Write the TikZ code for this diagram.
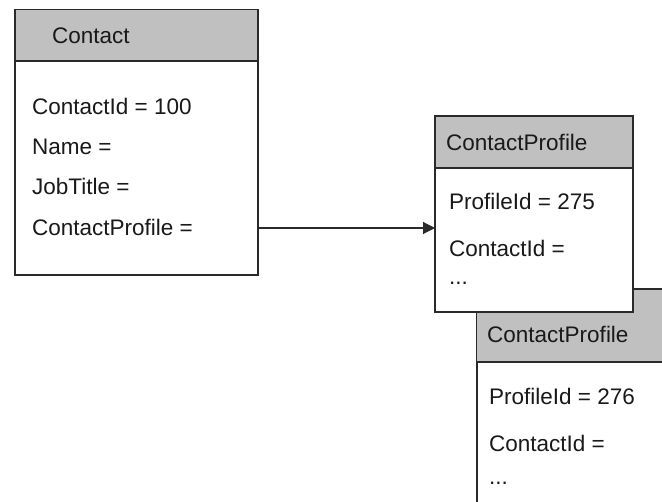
\documentclass[tikz,border=0pt]{standalone}
\usepackage{fontspec}
\setmainfont{Liberation Sans}
\usetikzlibrary{arrows.meta}
\definecolor{hdr}{HTML}{C0C0C0}
\definecolor{edge}{HTML}{2A2A2A}
\begin{document}
\begin{tikzpicture}[x=1pt,y=-1pt,
  boxline/.style={draw=edge,line width=1.1pt},
  txt/.style={anchor=base west,inner sep=0pt,font=\fontsize{22.5}{27}\selectfont,text=black!90},
  ent/.style={boxline,fill=white,minimum width=#1,inner sep=0pt,anchor=north west}]
\useasboundingbox (0,0) rectangle (662,502);
\clip (0,0) rectangle (662,502);
% second profile box (runs past the picture edge)
\node[ent=200pt,minimum height=240pt,fill=white] (pb) at (476.5,289) {};
\fill[hdr] (pb.north west) rectangle (680,362);
\draw[boxline] (476.5,560) -- (pb.north west) -- (680,289);
\draw[boxline] (476.5,362) -- (680,362);
\node[txt] (pbh) at (487,343) {ContactProfile};
\node[txt] (pb1) at (489,405) {ProfileId = 276};
\node[txt] (pb2) at (489,452) {ContactId =};
\node[txt] (pb3) at (489,485) {...};
% first profile box
\node[ent=197pt,minimum height=195pt] (pa) at (435,116) {};
\fill[hdr] (pa.north west) rectangle (632,168);
\draw[boxline] (pa.north west) rectangle (pa.south east);
\draw[boxline] (435,168) -- (632,168);
\node[txt] (pah) at (446,151) {ContactProfile};
\node[txt] (pa1) at (449,210) {ProfileId = 275};
\node[txt] (pa2) at (449,257) {ContactId =};
\node[txt] (pa3) at (449,285) {...};
% contact box
\node[ent=242pt,minimum height=265pt] (ct) at (15,9.5) {};
\fill[hdr] (ct.north west) rectangle (257,61);
\draw[boxline] (ct.north west) rectangle (ct.south east);
\draw[boxline] (15,61) -- (257,61);
\node[txt] (cth) at (52,44) {Contact};
\node[txt] (c1) at (32,115) {ContactId = 100};
\node[txt] (c2) at (32,155) {Name =};
\node[txt] (c3) at (32,195) {JobTitle =};
\node[txt] (c4) at (32,236) {ContactProfile =};
% connector
\coordinate (s) at (ct.east |- 0,228);
\draw[draw=edge,line width=1.1pt,-{Triangle[length=12pt,width=12pt]}] (s) -- (s -| pa.west);
\end{tikzpicture}
\end{document}
